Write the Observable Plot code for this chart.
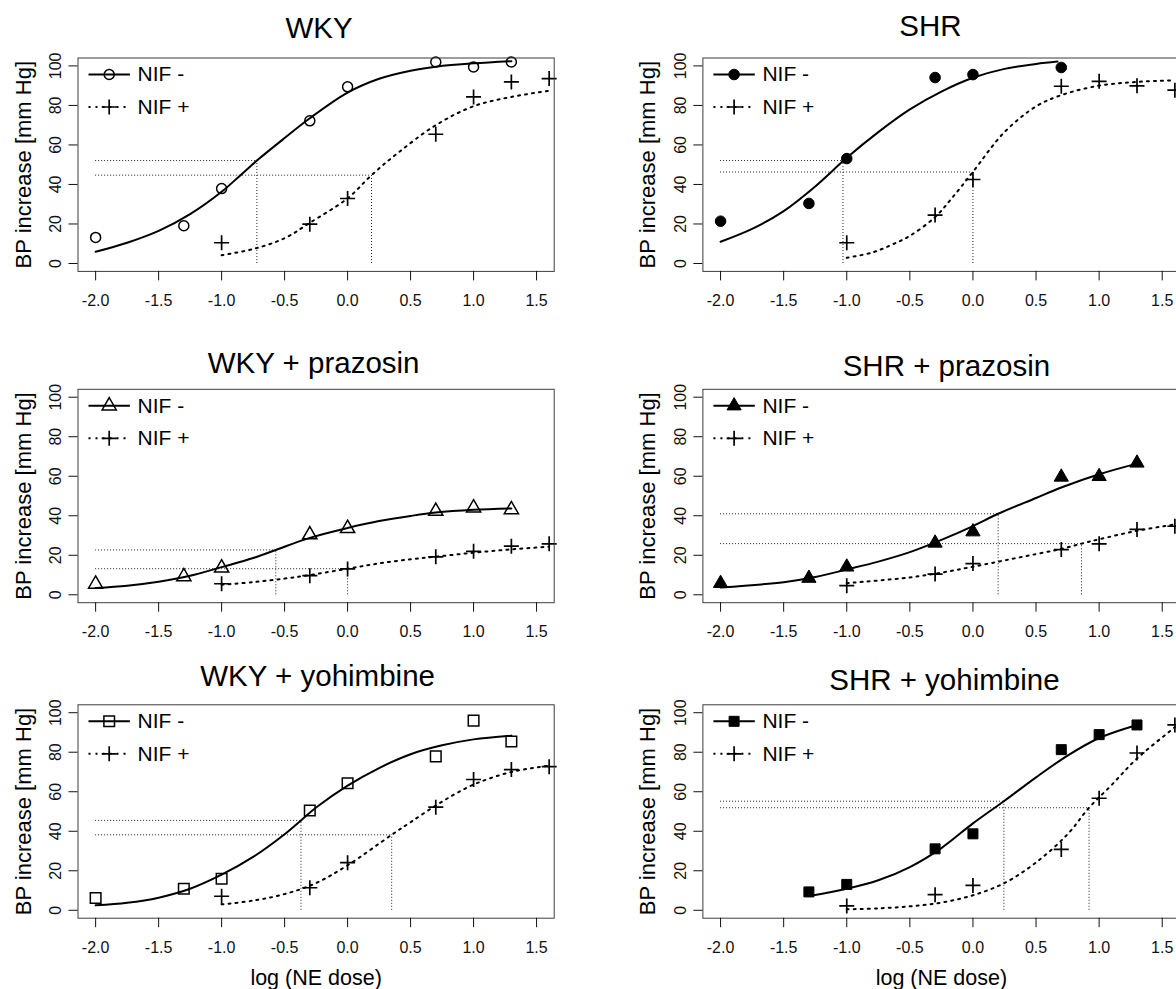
<!DOCTYPE html>
<html>
<head>
<meta charset="utf-8">
<script src="https://cdn.jsdelivr.net/npm/d3@7"></script>
<script src="https://cdn.jsdelivr.net/npm/@observablehq/plot@0.6"></script>
<style>
  html, body { margin: 0; padding: 0; background: #fff; overflow: hidden; }
  #root { position: relative; width: 1176px; height: 989px; overflow: hidden; background: #fff; }
  #root svg { position: absolute; overflow: visible; }
</style>
</head>
<body>
<div id="root"></div>
<script>
// ---------------- DATA ----------------
const panelTitles = ["WKY", "SHR", "WKY + prazosin", "SHR + prazosin", "WKY + yohimbine", "SHR + yohimbine"];
const legendLabels = ["NIF -", "NIF +"];
const yAxisLabel = "BP increase [mm Hg]";
const xAxisLabel = "log (NE dose)";
const xTicks = [-2, -1.5, -1, -0.5, 0, 0.5, 1, 1.5];
const yTicks = [0, 20, 40, 60, 80, 100];

// log NE doses of the measured points
const doseMinus = [-2, -1.3, -1, -0.3, 0, 0.7, 1, 1.3];
const dosePlus = [-1, -0.3, 0, 0.7, 1, 1.3, 1.6];
const doseMinusShr = [-2, -1.3, -1, -0.3, 0, 0.7];
const doseMinusShrYoh = [-1.3, -1, -0.3, 0, 0.7, 1, 1.3];

// measured BP increases
const wkyMinusBP = [13.2, 19.1, 37.9, 72.2, 89.4, 102, 99.5, 102];
const wkyPlusBP = [10.5, 19.9, 32.9, 65.4, 84.3, 91.9, 93.6];
const shrMinusBP = [21.4, 30.4, 53.1, 94.1, 95.6, 99.2];
const shrPlusBP = [10.5, 24.5, 42.5, 89.7, 92.2, 89.9, 87.7];
const wkyPrazMinusBP = [5.4, 9.2, 13.6, 30.4, 33.6, 42.3, 44, 43.1];
const wkyPrazPlusBP = [5.6, 9.7, 13.1, 19.2, 22, 24.6, 25.8];
const shrPrazMinusBP = [5.8, 8.4, 14.1, 26.2, 31.9, 59.6, 59.9, 66.7];
const shrPrazPlusBP = [4.6, 10.5, 15.8, 22.9, 25.8, 33.1, 34.7];
const wkyYohMinusBP = [6.2, 10.9, 16, 50.5, 64.3, 77.9, 96, 85.4];
const wkyYohPlusBP = [7.1, 11.4, 24.1, 52.2, 66.2, 71.2, 72.7];
const shrYohMinusBP = [9.3, 13.1, 31.1, 38.7, 81.3, 88.9, 93.8];
const shrYohPlusBP = [2.2, 7.9, 12.6, 30.8, 56.7, 79.6, 93.8];

// fitted curves
const wkyMinusFitDose = [-2, -1.75, -1.5, -1.25, -1, -0.85, -0.72, -0.5, -0.3, 0, 0.25, 0.5, 0.7, 1, 1.3];
const wkyMinusFitBP = [5.9, 10.5, 16.5, 25, 36.3, 44.7, 52.1, 63.5, 73.5, 86.5, 93.5, 97.6, 99.6, 101.3, 102.4];
const wkyPlusFitDose = [-1, -0.75, -0.5, -0.3, 0, 0.19, 0.4, 0.7, 1, 1.3, 1.6];
const wkyPlusFitBP = [4.2, 7.3, 12.8, 20.6, 33, 44.7, 56, 70, 79.6, 84.3, 87.4];
const shrMinusFitDose = [-2, -1.75, -1.5, -1.25, -1, -0.75, -0.5, -0.25, 0, 0.25, 0.5, 0.67];
const shrMinusFitBP = [11, 17.5, 26.5, 39, 53.5, 66.5, 78, 87, 94, 98.5, 101, 102.2];
const shrPlusFitDose = [-1, -0.8, -0.65, -0.5, -0.3, -0.17, 0, 0.25, 0.5, 0.7, 1, 1.3, 1.6];
const shrPlusFitBP = [2.9, 5.5, 9.3, 14, 23.5, 32.8, 46.4, 66.5, 79.5, 85.2, 90, 91.9, 92.7];
const wkyPrazMinusFitDose = [-2, -1.75, -1.5, -1.25, -1, -0.75, -0.57, -0.3, 0, 0.25, 0.5, 0.7, 1, 1.3];
const wkyPrazMinusFitBP = [3.4, 4.6, 6.6, 9.6, 14, 18.6, 22.7, 28.8, 33.8, 37.3, 39.9, 41.6, 43, 43.7];
const wkyPrazPlusFitDose = [-1, -0.75, -0.5, -0.3, 0, 0.25, 0.5, 0.7, 1, 1.3, 1.6];
const wkyPrazPlusFitBP = [5.1, 6.4, 8.2, 10, 13.2, 15.9, 18, 19.3, 21.3, 23, 24.4];
const shrPrazMinusFitDose = [-2, -1.5, -1.25, -1, -0.75, -0.5, -0.25, 0, 0.2, 0.5, 0.7, 1, 1.3];
const shrPrazMinusFitBP = [3.7, 6.4, 9, 12.8, 16.8, 21.6, 27.8, 34.8, 41, 49, 54.3, 61, 66.4];
const shrPrazPlusFitDose = [-1, -0.5, -0.25, 0, 0.25, 0.5, 0.7, 0.86, 1, 1.3, 1.6];
const shrPrazPlusFitBP = [5.9, 8.8, 11.2, 14.2, 17.4, 20.6, 23.2, 25.9, 28.1, 32.4, 35.6];
const wkyYohMinusFitDose = [-2, -1.75, -1.5, -1.25, -1, -0.75, -0.5, -0.37, -0.25, 0, 0.25, 0.5, 0.75, 1, 1.3];
const wkyYohMinusFitBP = [2.5, 3.8, 6.4, 10.9, 18, 27, 38.5, 45.5, 52, 63.1, 72, 79, 83.5, 86.5, 88.4];
const wkyYohPlusFitDose = [-1, -0.75, -0.5, -0.25, 0, 0.35, 0.5, 0.75, 1, 1.3, 1.6];
const wkyYohPlusFitBP = [3, 4.9, 8.2, 13.8, 22.8, 38.2, 44.6, 55, 63.6, 70, 73.2];
const shrYohMinusFitDose = [-1.3, -1, -0.75, -0.5, -0.25, 0, 0.245, 0.5, 0.75, 1, 1.3];
const shrYohMinusFitBP = [7.2, 10.9, 15.2, 21.9, 31.5, 44, 55.2, 67.3, 78.3, 87.2, 93.8];
const shrYohPlusFitDose = [-1, -0.75, -0.5, -0.25, 0, 0.25, 0.5, 0.75, 0.92, 1.1, 1.3, 1.6];
const shrYohPlusFitBP = [0.5, 1, 2, 3.9, 7.6, 13.8, 24.2, 38.5, 51.9, 63.5, 76.8, 92.6];

// half-maximal guide lines [NIF -, NIF +]
const wkyRefDose = [-0.72, 0.19],    wkyRefBP = [52.1, 44.7];
const shrRefDose = [-1.03, 0],       shrRefBP = [52.1, 46.3];
const wkyPrazRefDose = [-0.57, 0],   wkyPrazRefBP = [22.7, 13.2];
const shrPrazRefDose = [0.2, 0.86],  shrPrazRefBP = [41, 25.9];
const wkyYohRefDose = [-0.37, 0.35], wkyYohRefBP = [45.5, 38.2];
const shrYohRefDose = [0.245, 0.92], shrYohRefBP = [55.2, 51.9];
const refStartDose = -2;
const refBaseBP = 0;

// ---------------- PANELS ----------------
const panels = [
  {minusDose: doseMinus, minusBP: wkyMinusBP, plusDose: dosePlus, plusBP: wkyPlusBP,
   minusFitDose: wkyMinusFitDose, minusFitBP: wkyMinusFitBP, plusFitDose: wkyPlusFitDose, plusFitBP: wkyPlusFitBP,
   refDose: wkyRefDose, refBP: wkyRefBP, shape: "circle", filled: false},
  {minusDose: doseMinusShr, minusBP: shrMinusBP, plusDose: dosePlus, plusBP: shrPlusBP,
   minusFitDose: shrMinusFitDose, minusFitBP: shrMinusFitBP, plusFitDose: shrPlusFitDose, plusFitBP: shrPlusFitBP,
   refDose: shrRefDose, refBP: shrRefBP, shape: "circle", filled: true},
  {minusDose: doseMinus, minusBP: wkyPrazMinusBP, plusDose: dosePlus, plusBP: wkyPrazPlusBP,
   minusFitDose: wkyPrazMinusFitDose, minusFitBP: wkyPrazMinusFitBP, plusFitDose: wkyPrazPlusFitDose, plusFitBP: wkyPrazPlusFitBP,
   refDose: wkyPrazRefDose, refBP: wkyPrazRefBP, shape: "triangle", filled: false},
  {minusDose: doseMinus, minusBP: shrPrazMinusBP, plusDose: dosePlus, plusBP: shrPrazPlusBP,
   minusFitDose: shrPrazMinusFitDose, minusFitBP: shrPrazMinusFitBP, plusFitDose: shrPrazPlusFitDose, plusFitBP: shrPrazPlusFitBP,
   refDose: shrPrazRefDose, refBP: shrPrazRefBP, shape: "triangle", filled: true},
  {minusDose: doseMinus, minusBP: wkyYohMinusBP, plusDose: dosePlus, plusBP: wkyYohPlusBP,
   minusFitDose: wkyYohMinusFitDose, minusFitBP: wkyYohMinusFitBP, plusFitDose: wkyYohPlusFitDose, plusFitBP: wkyYohPlusFitBP,
   refDose: wkyYohRefDose, refBP: wkyYohRefBP, shape: "square", filled: false},
  {minusDose: doseMinusShrYoh, minusBP: shrYohMinusBP, plusDose: dosePlus, plusBP: shrYohPlusBP,
   minusFitDose: shrYohMinusFitDose, minusFitBP: shrYohMinusFitBP, plusFitDose: shrYohPlusFitDose, plusFitBP: shrYohPlusFitBP,
   refDose: shrYohRefDose, refBP: shrYohRefBP, shape: "square", filled: true}
];

// ---------------- LAYOUT / STYLE ----------------
const FONT = "'Liberation Sans', Arial, Helvetica, sans-serif";
const COLS = [
  {left: 0,   width: 588, ml: 77.5,  mr: 34.3},
  {left: 588, width: 600, ml: 114.4, mr: 8.6}
];
const ROWS = [
  {top: 0,   height: 320, mt: 57.5},
  {top: 320, height: 310, mt: 68.8},
  {top: 630, height: 359, mt: 74.3}
];
const FRAME_H = 213.4;
const TITLE_OFF = [[3, -29.5], [-11, -31], [-2.5, -25.5], [5, -22.5], [1.5, -28], [3, -24.5]];
const DOTTED = "2 5";

const circleSym = r => ({draw(c) { c.moveTo(r, 0); c.arc(0, 0, r, 0, 2 * Math.PI); c.closePath(); }});
const triSym = r => ({draw(c) { c.moveTo(0, -r); c.lineTo(r * 0.866, r / 2); c.lineTo(-r * 0.866, r / 2); c.closePath(); }});
const squareSym = s => ({draw(c) { c.moveTo(-s / 2, -s / 2); c.lineTo(s / 2, -s / 2); c.lineTo(s / 2, s / 2); c.lineTo(-s / 2, s / 2); c.closePath(); }});
const plusSym = {draw(c) { c.moveTo(-7.5, 0); c.lineTo(7.5, 0); c.moveTo(0, -7.5); c.lineTo(0, 7.5); }};
const legendLineSym = {draw(c) { c.moveTo(-20.7, 0); c.lineTo(20.7, 0); }};

function shapeSymbol(shape, filled) {
  if (shape === "circle") return circleSym(filled ? 5.3 : 5);
  if (shape === "triangle") return triSym(8.2);
  return squareSym(filled ? 10 : 10.6);
}

const root = document.getElementById("root");

panels.forEach((p, idx) => {
  const col = COLS[idx % 2];
  const rowIndex = Math.floor(idx / 2);
  const row = ROWS[rowIndex];
  const mb = row.height - row.mt - FRAME_H;
  const pts = (xs, ys) => xs.map((x, i) => ({dose: x, bp: ys[i]}));
  const minus = pts(p.minusDose, p.minusBP);
  const plus = pts(p.plusDose, p.plusBP);
  const minusFit = pts(p.minusFitDose, p.minusFitBP);
  const plusFit = pts(p.plusFitDose, p.plusFitBP);
  const refs = p.refDose.map((x, i) => ({dose: x, bp: p.refBP[i], start: refStartDose, base: refBaseBP}));
  const sym = shapeSymbol(p.shape, p.filled);
  const symStyle = p.filled
    ? {fill: "#000", stroke: "#000", strokeWidth: 1}
    : {fill: "none", stroke: "#000", strokeWidth: 1.5};

  const marks = [
    Plot.ruleY(refs, {y: "bp", x1: "start", x2: "dose", stroke: "#222", strokeWidth: 1, strokeDasharray: "1 2"}),
    Plot.ruleX(refs, {x: "dose", y1: "base", y2: "bp", stroke: "#222", strokeWidth: 1, strokeDasharray: "1 2"}),
    Plot.line(minusFit, {x: "dose", y: "bp", curve: "catmull-rom", stroke: "#000", strokeWidth: 2}),
    Plot.line(plusFit, {x: "dose", y: "bp", curve: "catmull-rom", stroke: "#000", strokeWidth: 2, strokeDasharray: DOTTED}),
    Plot.dot(minus, {x: "dose", y: "bp", symbol: sym, r: 5, ...symStyle}),
    Plot.dot(plus, {x: "dose", y: "bp", symbol: plusSym, r: 5, fill: "none", stroke: "#000", strokeWidth: 1.7}),
    Plot.frame({stroke: "#3c3c3c", strokeWidth: 1}),
    Plot.axisX({ticks: xTicks, tickFormat: d => d.toFixed(1), tickSize: 9.5, tickPadding: 13.5, fontSize: 16, label: null}),
    Plot.axisY({ticks: yTicks, tickFormat: d => String(d), tickSize: 9, tickPadding: 8, tickRotate: -90, fontSize: 16, label: null}),
    // legend
    Plot.dot(legendLabels.slice(0, 1), {frameAnchor: "top-left", dx: 31.2, dy: 16.5, symbol: legendLineSym, r: 5, fill: "none", stroke: "#000", strokeWidth: 2}),
    Plot.dot(legendLabels.slice(0, 1), {frameAnchor: "top-left", dx: 31.2, dy: 16.5, symbol: sym, r: 5, ...symStyle}),
    Plot.text(legendLabels.slice(0, 1), {frameAnchor: "top-left", dx: 59.5, dy: 16.5, text: d => d, textAnchor: "start", lineAnchor: "middle", fontSize: 21, fill: "#000"}),
    Plot.dot(legendLabels.slice(1, 2), {frameAnchor: "top-left", dx: 31.2, dy: 49, symbol: legendLineSym, r: 5, fill: "none", stroke: "#000", strokeWidth: 2, strokeDasharray: DOTTED}),
    Plot.dot(legendLabels.slice(1, 2), {frameAnchor: "top-left", dx: 31.2, dy: 49, symbol: plusSym, r: 5, fill: "none", stroke: "#000", strokeWidth: 1.7}),
    Plot.text(legendLabels.slice(1, 2), {frameAnchor: "top-left", dx: 59.5, dy: 49, text: d => d, textAnchor: "start", lineAnchor: "middle", fontSize: 21, fill: "#000"}),
    // title & axis label
    Plot.text([panelTitles[idx]], {frameAnchor: "top", dx: TITLE_OFF[idx][0], dy: TITLE_OFF[idx][1], text: d => d, lineAnchor: "middle", fontSize: 29.5, fill: "#000"}),
    Plot.text([yAxisLabel], {frameAnchor: "left", dx: -54.5, rotate: -90, text: d => d, textAnchor: "middle", lineAnchor: "middle", fontSize: 22, fill: "#000"})
  ];
  if (rowIndex === 2) {
    marks.push(Plot.text([xAxisLabel], {frameAnchor: "bottom", dy: 60, text: d => d, textAnchor: "middle", lineAnchor: "middle", fontSize: 21.5, fill: "#000"}));
  }

  const svg = Plot.plot({
    width: col.width,
    height: row.height,
    marginLeft: col.ml,
    marginRight: col.mr,
    marginTop: row.mt,
    marginBottom: mb,
    x: {domain: [-2.14, 1.64]},
    y: {domain: [-4, 104]},
    style: {fontFamily: FONT, fontSize: "16px", background: "transparent", overflow: "visible", color: "#111", maxWidth: "none"},
    marks
  });
  svg.style.left = col.left + "px";
  svg.style.top = row.top + "px";
  root.appendChild(svg);
});
</script>
</body>
</html>
